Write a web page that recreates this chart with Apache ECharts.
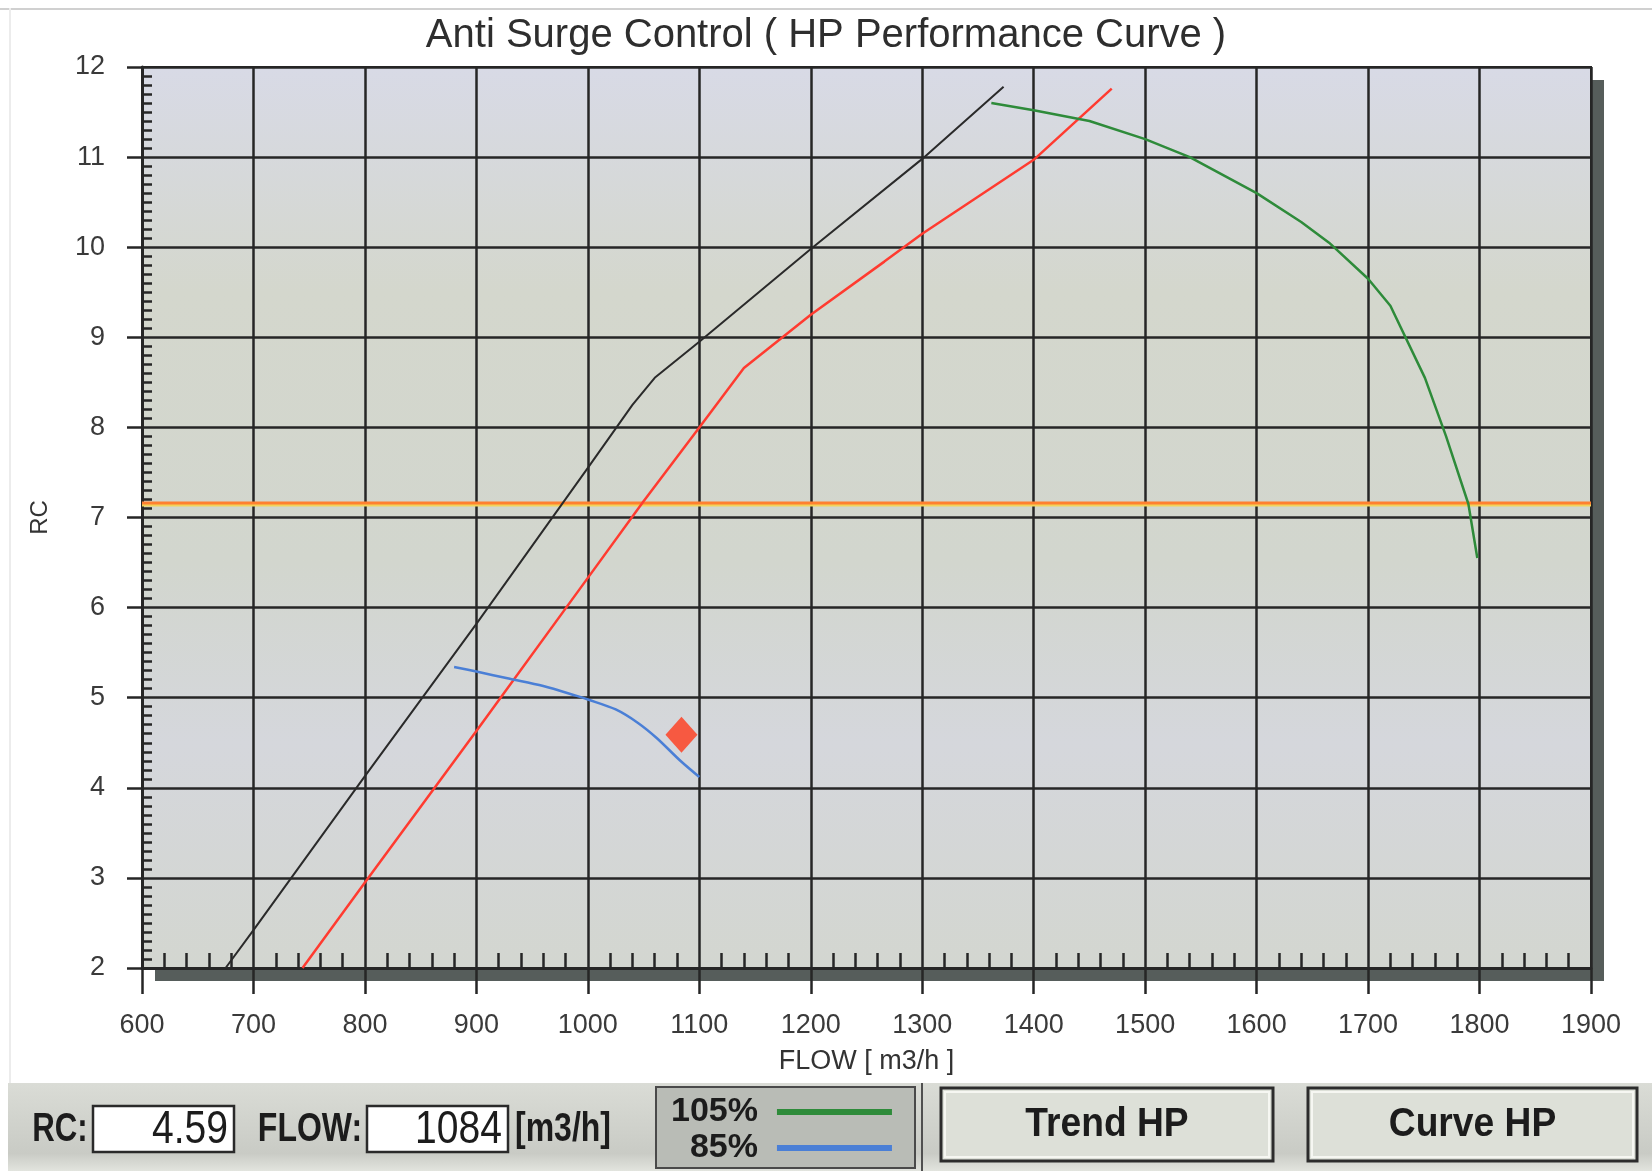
<!DOCTYPE html>
<html>
<head>
<meta charset="utf-8">
<title>Anti Surge Control</title>
<script src="https://cdn.jsdelivr.net/npm/echarts@6/dist/echarts.min.js"></script>
<style>
  html, body { margin: 0; padding: 0; background: #fff; }
  #main { width: 1652px; height: 1171px; }
</style>
</head>
<body>
<div id="main"></div>
<script>
// axis ranges (FLOW m3/h on x, RC on y)
const flowMin = 600, flowMax = 1900, flowStep = 100;
const rcMin = 2, rcMax = 12, rcStep = 1;

// curves: [flow, rc]
const surgeLine = [[675, 2], [700, 2.42], [800, 4.13], [900, 5.82], [1000, 7.55], [1040, 8.25], [1060, 8.55], [1100, 8.95], [1200, 9.98], [1300, 10.98], [1373, 11.78]];
const controlLine = [[744, 2], [800, 2.95], [900, 4.63], [1000, 6.33], [1050, 7.18], [1100, 8.0], [1140, 8.66], [1200, 9.25], [1266, 9.84], [1300, 10.15], [1400, 10.97], [1470, 11.76]];
const speed105 = [[1362, 11.6], [1400, 11.52], [1450, 11.4], [1500, 11.2], [1540, 11.0], [1600, 10.6], [1640, 10.28], [1665, 10.05], [1700, 9.65], [1720, 9.35], [1751, 8.55], [1770, 7.9], [1790, 7.15], [1798, 6.55]];
const speed85 = [[880, 5.34], [900, 5.29], [930, 5.21], [960, 5.13], [990, 5.02], [1000, 4.98], [1025, 4.87], [1045, 4.72], [1062, 4.55], [1083, 4.3], [1100, 4.12]];
const rcLimit = [[600, 7.16], [1900, 7.16]];
const operatingPoint = [[1084, 4.59]];

const speedNames = ['105%', '85%'];
const chartTitle = 'Anti Surge Control ( HP Performance Curve )';

const dark = '#262626';
const font = '"Liberation Sans", Arial, sans-serif';

const chart = echarts.init(document.getElementById('main'));

function label(x, y, text, size, weight, align, sx) {
  return {
    type: 'text', x: x, y: y, scaleX: sx, z: 10,
    style: {
      x: 0, y: 0, text: text, fill: '#1c1c1c',
      fontSize: size, fontWeight: weight, fontFamily: font,
      align: align, textAlign: align, verticalAlign: 'middle', textVerticalAlign: 'middle'
    }
  };
}

function button(x, w, text) {
  return [
    { type: 'rect', z: 5, shape: { x: x, y: 1088, width: w, height: 73 },
      style: { fill: '#dde0d8', stroke: '#2c2c2c', lineWidth: 3 } },
    { type: 'rect', z: 6, shape: { x: x + 4, y: 1092, width: w - 8, height: 65 },
      style: { fill: 'none', stroke: '#f6f7f2', lineWidth: 2 } },
    label(x + w / 2, 1125, text, 40, 'bold', 'center', 0.93)
  ];
}

const graphics = [
  // 3D shadow behind the plot
  { type: 'rect', z: -5, shape: { x: 155, y: 80, width: 1449, height: 901 }, style: { fill: '#565d5b' } },
  // thin frame lines
  { type: 'rect', shape: { x: 0, y: 8, width: 1652, height: 2 }, style: { fill: '#d0d0d0' } },
  { type: 'rect', shape: { x: 9, y: 8, width: 2, height: 1075 }, style: { fill: '#ececec' } },
  // bottom panel
  { type: 'rect', z: 1, shape: { x: 8, y: 1083, width: 1644, height: 88 },
    style: { fill: new echarts.graphic.LinearGradient(0, 0, 0, 1, [
      { offset: 0, color: '#dadcd6' }, { offset: 0.8, color: '#c9cbc5' }, { offset: 1, color: '#e2e4de' }]) } },
  // readout boxes
  { type: 'rect', z: 5, shape: { x: 93, y: 1106, width: 141, height: 46 }, style: { fill: '#ffffff', stroke: '#2a2a2a', lineWidth: 2.5 } },
  { type: 'rect', z: 5, shape: { x: 367, y: 1106, width: 141, height: 46 }, style: { fill: '#ffffff', stroke: '#2a2a2a', lineWidth: 2.5 } },
  label(60, 1130, 'RC:', 40, 'bold', 'center', 0.78),
  label(228, 1130, operatingPoint[0][1].toFixed(2), 46, 'normal', 'right', 0.85),
  label(310, 1130, 'FLOW:', 40, 'bold', 'center', 0.8),
  label(502, 1130, String(operatingPoint[0][0]), 46, 'normal', 'right', 0.85),
  label(563, 1130, '[m3/h]', 40, 'bold', 'center', 0.8),
  // legend box and separator
  { type: 'rect', z: 2, shape: { x: 656, y: 1087, width: 259, height: 81 }, style: { fill: '#b9bcb6', stroke: '#4a4a4a', lineWidth: 2 } },
  { type: 'rect', z: 2, shape: { x: 921, y: 1083, width: 2, height: 88 }, style: { fill: '#505050' } }
].concat(button(941, 332, 'Trend HP'), button(1308, 329, 'Curve HP'));

const plainNumber = function (v) { return String(v); };

const option = {
  animation: false,
  backgroundColor: '#ffffff',
  textStyle: { fontFamily: font },
  title: {
    text: chartTitle, left: 'center', top: 16, padding: 0,
    textStyle: { fontSize: 40, fontWeight: 'normal', color: '#2e2e2e', fontFamily: font }
  },
  legend: {
    data: speedNames, orient: 'vertical', left: 666, top: 1090, z: 8,
    align: 'right', icon: 'rect', itemWidth: 115, itemHeight: 6, itemGap: 2,
    selectedMode: false,
    textStyle: { fontSize: 34, fontWeight: 'bold', color: '#1c1c1c', width: 88, align: 'right',
      padding: [0, 14, 0, 0], fontFamily: font }
  },
  grid: {
    left: 142, right: 61, top: 67, bottom: 203, show: true,
    backgroundColor: new echarts.graphic.LinearGradient(0, 0, 0, 1, [
      { offset: 0, color: '#d8dae6' }, { offset: 0.25, color: '#d4d7cd' },
      { offset: 0.55, color: '#d2d6ce' }, { offset: 0.75, color: '#d5d7dc' }, { offset: 1, color: '#d3d6d0' }]),
    borderColor: dark, borderWidth: 2
  },
  xAxis: {
    type: 'value', min: flowMin, max: flowMax, interval: flowStep, z: 3,
    name: 'FLOW [ m3/h ]', nameLocation: 'middle', nameGap: 80,
    nameTextStyle: { fontSize: 27, color: '#333' },
    axisLine: { show: true, onZero: false, lineStyle: { color: dark, width: 3 } },
    axisTick: { show: true, inside: false, length: 26, lineStyle: { color: dark, width: 2.5 } },
    minorTick: { show: true, splitNumber: 5, length: -15, lineStyle: { color: dark, width: 2.5 } },
    splitLine: { show: true, lineStyle: { color: dark, width: 2.5 } },
    axisLabel: { margin: 44, fontSize: 27, color: '#3a3a3a', formatter: plainNumber }
  },
  yAxis: {
    type: 'value', min: rcMin, max: rcMax, interval: rcStep, z: 3,
    name: 'RC', nameLocation: 'middle', nameGap: 90,
    nameTextStyle: { fontSize: 24, color: '#333' },
    axisLine: { show: true, onZero: false, lineStyle: { color: dark, width: 3 } },
    axisTick: { show: true, inside: false, length: 15, lineStyle: { color: dark, width: 2.5 } },
    minorTick: { show: true, splitNumber: 10, length: -10, lineStyle: { color: dark, width: 2.5 } },
    splitLine: { show: true, lineStyle: { color: dark, width: 2.5 } },
    axisLabel: { margin: 37, fontSize: 27, color: '#3a3a3a', formatter: plainNumber }
  },
  graphic: graphics,
  series: [
    { name: 'RC limit', type: 'line', data: rcLimit, showSymbol: false, z: 4,
      lineStyle: { color: '#ff8030', width: 3, shadowColor: '#f2d35a', shadowOffsetY: 2, shadowBlur: 0 } },
    { name: 'Surge line', type: 'line', data: surgeLine, showSymbol: false, z: 4,
      lineStyle: { color: '#2a2a2a', width: 2 } },
    { name: 'Control line', type: 'line', data: controlLine, showSymbol: false, z: 4,
      lineStyle: { color: '#ff3b30', width: 2.5 } },
    { name: speedNames[0], type: 'line', data: speed105, showSymbol: false, color: '#2e8b3a', z: 4,
      lineStyle: { color: '#2e8b3a', width: 2.5 } },
    { name: speedNames[1], type: 'line', data: speed85, showSymbol: false, smooth: 0.3, color: '#4a7fd6', z: 4,
      lineStyle: { color: '#4a7fd6', width: 2.5 } },
    { name: 'Operating point', type: 'scatter', data: operatingPoint, symbol: 'diamond', symbolSize: [32, 36],
      itemStyle: { color: '#ff3a1a' }, z: 6 }
  ]
};

chart.setOption(option);
</script>
</body>
</html>
